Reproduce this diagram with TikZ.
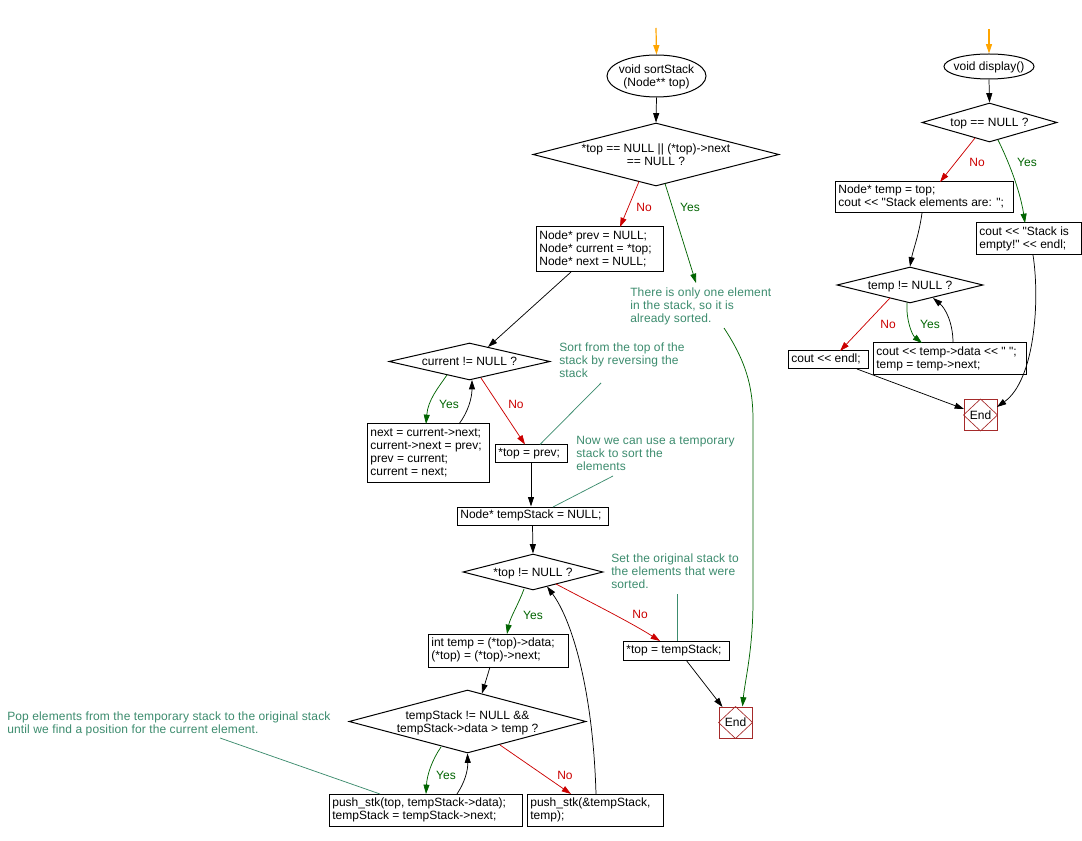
\documentclass[tikz,border=0pt]{standalone}
\usepackage{fontspec}
\setmainfont{Liberation Sans}[Ligatures=TeXOff]
\usetikzlibrary{arrows.meta,shapes.geometric,calc}
\definecolor{nored}{RGB}{204,0,0}
\definecolor{yesgreen}{RGB}{0,100,0}
\definecolor{cmt}{RGB}{60,140,110}
\definecolor{endred}{RGB}{165,42,42}
\definecolor{startor}{RGB}{255,165,0}
\newcommand{\zt}[1]{\smash{\raisebox{-0.39em}{\makebox[0pt]{\begin{tabular}{@{}c@{}}#1\end{tabular}}}}}
\newcommand{\lt}[2]{\makebox[\dimexpr #1pt*3/4-5pt\relax][l]{\raisebox{-1.3pt}{\begin{tabular}{@{}l@{}}#2\end{tabular}}}}
\begin{document}
\begin{tikzpicture}[x=0.75pt,y=-0.75pt,
  font=\fontsize{9}{9.75}\selectfont,
  bx/.style 2 args={draw, line width=0.75pt, inner xsep=2.5pt, inner ysep=0pt,
    minimum width=#1*0.75pt, minimum height=#2*0.75pt},
  dia/.style 2 args={draw, diamond, line width=0.75pt, inner sep=0pt,
    minimum width=#1*0.75pt, minimum height=#2*0.75pt},
  ell/.style 2 args={draw, ellipse, line width=0.75pt, inner sep=0pt,
    minimum width=#1*0.75pt, minimum height=#2*0.75pt},
  endbox/.style={draw=endred, line width=0.75pt, inner sep=0pt,
    minimum width=33*0.75pt, minimum height=31*0.75pt},
  cmtnode/.style={text=cmt, align=left, anchor=north west, inner sep=0pt,
    font=\fontsize{9}{9.75}\selectfont\addfontfeatures{LetterSpace=1.2}},
  arr/.style={line width=0.55pt, -{Triangle[length=7pt,width=4.5pt]}},
  noedge/.style={arr, draw=nored, -{Triangle[length=7pt,width=4.5pt,fill=nored]}},
  yesedge/.style={arr, draw=yesgreen, -{Triangle[length=7pt,width=4.5pt,fill=yesgreen]}},
  oredge/.style={arr, draw=startor, line width=0.9pt},
  cline/.style={draw=cmt, line width=0.55pt},
  nolab/.style={text=nored, inner sep=0pt},
  yeslab/.style={text=yesgreen, inner sep=0pt}]
\fill[white] (0,0) rectangle (1082,841);
\useasboundingbox (0,0) rectangle (1082,841);

% ---------------- sortStack ----------------
\coordinate (o1) at (656,28);
\node[ell={99}{42}] (s1) at (656.5,76) {\zt{void sortStack\\(Node** top)}};
\node[dia={246}{63}] (d1) at (656,154.5) {\zt{*top == NULL || (*top)->next\\== NULL ?}};
\node[bx={127}{45}] (b1) at (599.5,249.5) {\lt{127}{Node* prev = NULL;\\Node* current = *top;\\Node* next = NULL;}};
\node[cmtnode] (c1) at (630,288) {There is only one element\\in the stack, so it is\\already sorted.};
\node[dia={161}{37}] (d2) at (469.5,361.5) {\zt{current != NULL ?}};
\node[cmtnode] (c2) at (559,343) {Sort from the top of the\\stack by reversing the\\stack};
\node[bx={122}{59}] (b2) at (428,453.5) {\lt{122}{next = current->next;\\current->next = prev;\\prev = current;\\current = next;}};
\node[bx={72}{18}] (b3) at (531,453.5) {\lt{72}{*top = prev;}};
\node[cmtnode] (c3) at (576,436) {Now we can use a temporary\\stack to sort the\\elements};
\node[bx={151}{18}] (b4) at (532.5,516) {\lt{151}{Node* tempStack = NULL;}};
\node[dia={140}{36}] (d3) at (533,572) {\zt{*top != NULL ?}};
\node[cmtnode] (c4) at (611,554) {Set the original stack to\\the elements that were\\sorted.};
\node[bx={140}{33}] (b5) at (498,650.5) {\lt{140}{int temp = (*top)->data;\\(*top) = (*top)->next;}};
\node[bx={106}{19}] (b6) at (676,650.5) {\lt{106}{*top = tempStack;}};
\node[endbox] (end1) at (735.5,722.5) {End};
\node[dia={237}{63}] (d4) at (467.5,721.5) {\zt{tempStack != NULL \&\&\\tempStack->data > temp ?}};
\node[cmtnode] (c5) at (7,712) {Pop elements from the temporary stack to the original stack\\until we find a position for the current element.};
\node[bx={193}{32}] (b7a) at (425.5,810) {\lt{193}{push\_stk(top, tempStack->data);\\tempStack = tempStack->next;}};
\node[bx={136}{32}] (b7b) at (595,810) {\lt{136}{push\_stk(\&tempStack,\\temp);}};

\draw[endred, line width=0.5pt] (end1.north) -- (end1.east) -- (end1.south) -- (end1.west) -- cycle;

\draw[oredge, -{Triangle[length=7pt,width=4.5pt,fill=startor]}] (o1) -- (s1.north);
\draw[arr] (s1.south) -- (d1.north);
\draw[noedge] ($(d1)+(-17,27)$) -- ($(b1)+(20.5,-22.5)$);
\node[nolab] (l1) at (644,207) {No};
\draw[yesedge] ($(d1)+(9,29)$) -- ($(c1.north west)+(66,-5)$);
\node[yeslab] (l2) at (690,207) {Yes};
\draw[draw=yesgreen, line width=0.55pt, -{Triangle[length=7pt,width=4.5pt,fill=yesgreen]}]
  ($(c1.north west)+(94,40)$) .. controls (745,360) and (753,385) .. (753,420)
  -- (753,600) .. controls (753,650) and (745,680) .. ($(end1)+(7,-16)$);
\draw[arr] ($(b1)+(-28.5,22.5)$) -- ($(d2)+(18.5,-14.5)$);
\draw[yesedge] ($(d2)+(-22.5,13.5)$) .. controls (438,388) and (428,400) .. ($(b2)+(-2,-29.5)$);
\node[yeslab] (l3) at (449,404) {Yes};
\draw[arr] ($(b2)+(31,-29.5)$) .. controls (468,412) and (472,398) .. ($(d2)+(2.5,18.5)$);
\draw[noedge] ($(d2)+(11.5,16.5)$) -- ($(b3)+(-6,-9)$);
\node[nolab] (l4) at (516,404) {No};
\draw[cline] ($(c2.north west)+(42,40)$) -- ($(b3)+(9,-9)$);
\draw[arr] (b3.south) -- (b3.south |- b4.north);
\draw[cline] ($(c3.north west)+(37,40)$) -- ($(b4)+(20.5,-9)$);
\draw[arr] (b4.south) -- (d3.north);
\draw[yesedge] ($(d3)+(-9,17)$) .. controls (519,603) and (510,618) .. ($(b5)+(9,-16.5)$);
\node[yeslab] (l5) at (533,615) {Yes};
\draw[noedge] ($(d3)+(23,12)$) .. controls (590,602) and (630,622) .. ($(b6)+(-16,-9.5)$);
\node[nolab] (l6) at (640,614) {No};
\draw[cline] ($(c4.north west)+(66,40)$) -- ($(b6)+(1,-9.5)$);
\draw[arr] ($(b6)+(10,9.5)$) -- ($(end1)+(-13,-15.5)$);
\draw[arr] ($(b5)+(-8,16.5)$) -- ($(d4)+(14.5,-28)$);
\draw[yesedge] ($(d4)+(-26.5,25.5)$) .. controls (432,760) and (427,775) .. ($(b7a)+(0.5,-16)$);
\node[yeslab] (l7) at (446,775) {Yes};
\draw[arr] ($(b7a)+(31.5,-16)$) .. controls (465,782) and (468,770) .. (d4.south);
\draw[noedge] ($(d4)+(32.5,23.5)$) -- ($(b7b)+(-24,-16)$);
\node[nolab] (l8) at (565,775) {No};
\draw[arr] ($(b7b)+(1,-16)$) .. controls (593,690) and (572,620) .. ($(d3)+(14,14.5)$);
\draw[cline] ($(c5.north west)+(213,26)$) -- ($(b7a)+(-45.5,-16)$);

% ---------------- display ----------------
\coordinate (o2) at (989,29);
\node[ell={90}{25}] (s2) at (989,66.5) {\zt{void display()}};
\node[dia={135}{39}] (d5) at (989.5,122.5) {\zt{top == NULL ?}};
\node[bx={178}{31}] (r1) at (924,197.5) {\lt{178}{Node* temp = top;\\cout << "Stack elements are: ";}};
\node[bx={105}{32}] (r2) at (1028.5,239) {\lt{105}{cout << "Stack is\\empty!" << endl;}};
\node[dia={146}{36}] (d6) at (910,285) {\zt{temp != NULL ?}};
\node[bx={80}{18}] (r3) at (828,360) {\lt{80}{cout << endl;}};
\node[bx={153}{32}] (r4) at (949.5,359) {\lt{153}{cout << temp->data << " ";\\temp = temp->next;}};
\node[endbox] (end2) at (980.5,415) {End};
\draw[endred, line width=0.5pt] (end2.north) -- (end2.east) -- (end2.south) -- (end2.west) -- cycle;

\draw[oredge, -{Triangle[length=7pt,width=4.5pt,fill=startor]}] (o2) -- (s2.north);
\draw[arr] (s2.south) -- (d5.north);
\draw[noedge] ($(d5)+(-14.5,15.5)$) -- ($(r1)+(16,-15.5)$);
\node[nolab] (l9) at (977,162) {No};
\draw[yesedge] ($(d5)+(8.5,17.5)$) .. controls (1008,160) and (1020,190) .. ($(r2)+(-3.5,-16)$);
\node[yeslab] (l10) at (1027,162) {Yes};
\draw[arr] ($(r1)+(-2,15.5)$) .. controls (919,235) and (913,250) .. (d6.north);
\draw[noedge] ($(d6)+(-20,13)$) -- ($(r3)+(12,-9)$);
\node[nolab] (l11) at (888,324) {No};
\draw[yesedge] ($(d6)+(-3,18)$) .. controls (906,320) and (912,335) .. ($(r4)+(-27.5,-16)$);
\node[yeslab] (l12) at (930,324) {Yes};
\draw[arr] ($(r4)+(3.5,-16)$) .. controls (953,322) and (945,308) .. ($(d6)+(23,13)$);
\draw[arr] ($(r3)+(29,9)$) -- ($(end2)+(-16.5,-6)$);
\draw[arr] ($(r2)+(4.5,16)$) .. controls (1040,300) and (1035,380) .. ($(end2)+(16.5,-8)$);
\end{tikzpicture}
\end{document}
